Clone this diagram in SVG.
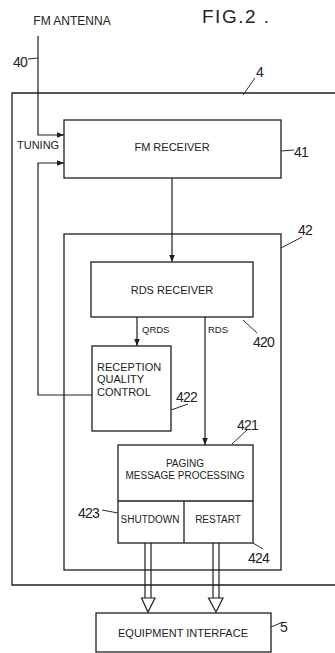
<svg xmlns="http://www.w3.org/2000/svg" width="335" height="653" viewBox="0 0 335 653">
<defs>
<style>
.box{fill:none;stroke:#1e1e1e;stroke-width:1.3}
.ln{fill:none;stroke:#1e1e1e;stroke-width:1.2}
.ld{fill:none;stroke:#2a2a2a;stroke-width:1}
.t{font-family:"Liberation Sans",Arial,sans-serif;font-size:11px;fill:#222}
.s{font-size:10px}
.n{font-family:"Liberation Sans",Arial,sans-serif;font-size:14px;fill:#222;letter-spacing:-0.8px}
.q{font-family:"Liberation Sans",Arial,sans-serif;font-size:9.5px;fill:#222}
.m{text-anchor:middle}
</style>
<marker id="ah" viewBox="0 0 10 10" refX="10" refY="5" markerWidth="7" markerHeight="7" markerUnits="userSpaceOnUse" orient="auto">
<path d="M0,1 L10,5 L0,9 z" fill="#1e1e1e"/>
</marker>
</defs>
<rect width="335" height="653" fill="#ffffff"/>

<text x="202" y="23" font-family="Liberation Sans,Arial,sans-serif" font-size="19" fill="#222" letter-spacing="1.5">FIG.2 .</text>
<text class="t m" x="72" y="25" font-size="12" style="font-size:12px">FM ANTENNA</text>

<g id="box4">
<path class="box" d="M335,93 H12 V585 H335"/>
<text class="n" x="256" y="77">4</text>
<line class="ld" x1="243" y1="95" x2="255" y2="78"/>
</g>

<g id="fm-receiver">
<rect class="box" x="64" y="120" width="217" height="58"/>
<text class="t m" x="172" y="151">FM RECEIVER</text>
<text class="n" x="294" y="157">41</text>
<line class="ld" x1="281" y1="151" x2="294" y2="150"/>
</g>

<g id="box42">
<rect class="box" x="64" y="234" width="217" height="336"/>
<text class="n" x="298" y="235">42</text>
<line class="ld" x1="281" y1="248" x2="302" y2="237"/>
</g>

<g id="rds-receiver">
<rect class="box" x="91" y="262" width="162" height="55"/>
<text class="t m" x="172" y="294">RDS RECEIVER</text>
<text class="n" x="253" y="347">420</text>
<line class="ld" x1="243" y1="320" x2="257" y2="333"/>
</g>

<g id="reception-quality-control">
<rect class="box" x="92" y="346" width="79" height="85"/>
<text class="t" x="97" y="371">RECEPTION</text>
<text class="t" x="97" y="383">QUALITY</text>
<text class="t" x="97" y="396">CONTROL</text>
<text class="n" x="176" y="402">422</text>
<line class="ld" x1="171" y1="410" x2="188" y2="404"/>
</g>

<g id="paging">
<rect class="box" x="118" y="445" width="135" height="98"/>
<line class="box" x1="118" y1="501" x2="253" y2="501"/>
<line class="box" x1="184" y1="501" x2="184" y2="543"/>
<text class="t s m" x="185" y="467">PAGING</text>
<text class="t s m" x="185" y="479">MESSAGE PROCESSING</text>
<text class="t s m" x="150" y="523">SHUTDOWN</text>
<text class="t s m" x="218" y="523">RESTART</text>
<text class="n" x="237" y="430">421</text>
<line class="ld" x1="232" y1="444" x2="247" y2="430"/>
<text class="n" x="78" y="518">423</text>
<line class="ld" x1="102" y1="510" x2="118" y2="513"/>
<text class="n" x="248" y="563">424</text>
<line class="ld" x1="253" y1="543" x2="263" y2="549"/>
</g>

<g id="equipment-interface">
<rect class="box" x="96" y="613" width="175" height="39"/>
<text class="t m" x="183" y="637">EQUIPMENT INTERFACE</text>
<text class="n" x="280" y="632">5</text>
<line class="ld" x1="271" y1="627" x2="283" y2="622"/>
</g>

<g id="connectors">
<path class="ln" d="M38,36 V135 H64" marker-end="url(#ah)"/>
<text class="n" x="13" y="67">40</text>
<line class="ld" x1="28" y1="59" x2="38" y2="58"/>
<text class="t" x="17" y="149">TUNING</text>
<path class="ln" d="M92,395 H38 V163 H64" marker-end="url(#ah)"/>
<path class="ln" d="M172,178 V262" marker-end="url(#ah)"/>
<path class="ln" d="M137,317 V346" marker-end="url(#ah)"/>
<text class="q" x="142" y="333">QRDS</text>
<path class="ln" d="M205,317 V445" marker-end="url(#ah)"/>
<text class="q" x="208" y="333">RDS</text>
<g id="hollow-arrows">
<line class="ln" x1="145" y1="543" x2="145" y2="598"/>
<line class="ln" x1="151" y1="543" x2="151" y2="598"/>
<path class="ln" d="M141.5,598 H155 L148,612 Z" fill="#fff"/>
<line class="ln" x1="213" y1="543" x2="213" y2="598"/>
<line class="ln" x1="219" y1="543" x2="219" y2="598"/>
<path class="ln" d="M208.5,598 H223 L216,612 Z" fill="#fff"/>
</g>
</g>
</svg>
